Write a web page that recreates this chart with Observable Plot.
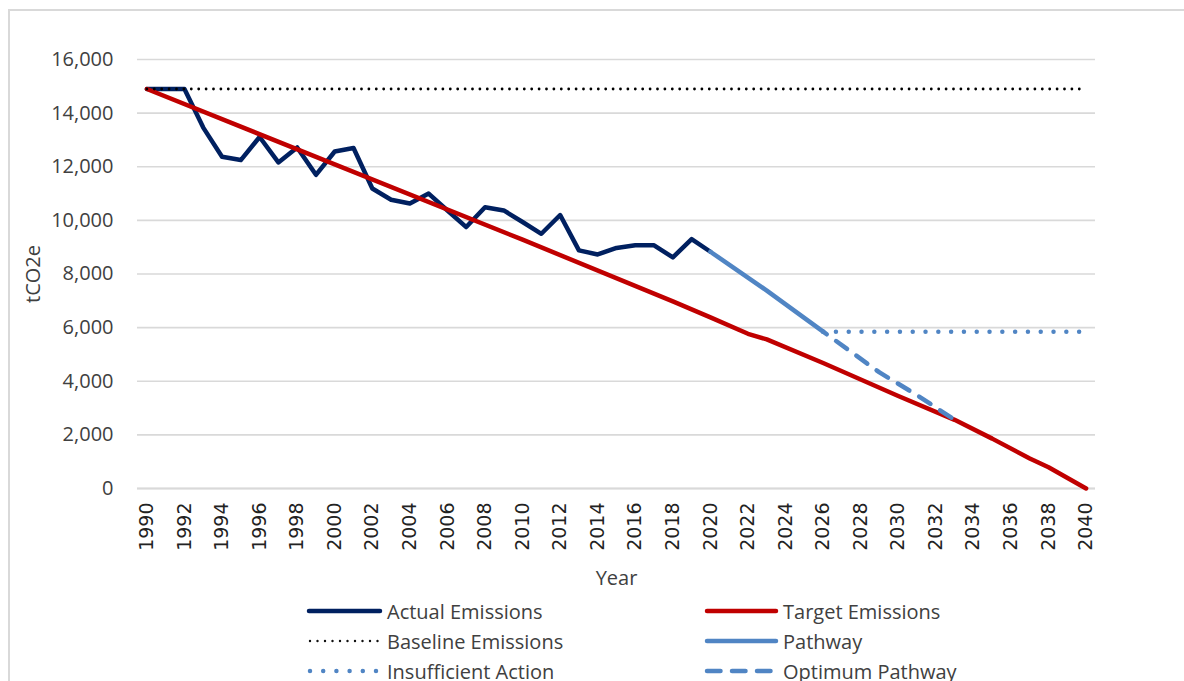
<!DOCTYPE html>
<html><head><meta charset="utf-8">
<script src="https://cdn.jsdelivr.net/npm/d3@7"></script>
<script src="https://cdn.jsdelivr.net/npm/@observablehq/plot@0.6"></script>
<style>
body{margin:0;background:#fff;width:1184px;height:681px;overflow:hidden;position:relative;font-family:"Open Sans",sans-serif}
#frame{position:absolute;left:8px;top:9px;width:1300px;height:800px;border:2px solid #d9d9d9;box-sizing:border-box}
#chart{position:absolute;left:0;top:0}
#legend{position:absolute;left:0;top:596px;width:1184px;height:90px}
.item{position:absolute;display:flex;align-items:center;height:30px;font-size:20px;color:#404040;white-space:nowrap}
.item svg{display:block}
.item span{margin-left:4px}
</style></head><body>
<div id="frame"></div><div id="chart"></div><div id="legend"></div>
<script>
// ---- data ----
const actualYears = [1990,1991,1992,1993,1994,1995,1996,1997,1998,1999,2000,2001,2002,2003,2004,2005,2006,2007,2008,2009,2010,2011,2012,2013,2014,2015,2016,2017,2018,2019,2020];
const actualValues = [14900,14900,14900,13460,12370,12250,13110,12160,12720,11700,12570,12700,11190,10770,10630,11000,10370,9750,10490,10370,9940,9500,10200,8880,8730,8970,9070,9070,8620,9300,8830];
const targetYears = [1990,2000,2010,2018,2020,2022,2023,2026,2030,2033,2035,2037,2038,2040];
const targetValues = [14900,12090,9280,6980,6380,5770,5560,4680,3450,2560,1860,1120,790,0];
const baselineYears = [1990,2040];
const baselineValues = [14900,14900];
const pathwayYears = [2020,2023,2026];
const pathwayValues = [8830,7380,5850];
const insufficientYears = [2026,2040];
const insufficientValues = [5850,5850];
const optimumYears = [2026,2029,2031,2033];
const optimumValues = [5850,4330,3480,2560];
const yTicks = [0,2000,4000,6000,8000,10000,12000,14000,16000];
const xTicks = [1990,1992,1994,1996,1998,2000,2002,2004,2006,2008,2010,2012,2014,2016,2018,2020,2022,2024,2026,2028,2030,2032,2034,2036,2038,2040];
const seriesNames = ["Actual Emissions","Target Emissions","Baseline Emissions","Pathway","Insufficient Action","Optimum Pathway"];

const C = {
  actual: "#002060", target: "#C00000", baseline: "#000000", blue: "#5085C4"
};
const toRows = (xs, ys) => xs.map((x, i) => ({x, y: ys[i]}));

const lineOpts = (stroke, extra = {}) => ({x: "x", y: "y", stroke, strokeWidth: 4.5, strokeLinejoin: "round", strokeLinecap: "round", ...extra});

const chart = Plot.plot({
  width: 1184, height: 597,
  marginLeft: 137, marginRight: 89, marginTop: 59, marginBottom: 109,
  x: {domain: [1989.5, 2040.5]},
  y: {domain: [0, 16000]},
  style: {background: "transparent", overflow: "visible"},
  marks: [
    Plot.gridY(yTicks, {stroke: "#d9d9d9", strokeOpacity: 1, strokeWidth: 1.6}),
    Plot.ruleY([0], {stroke: "#d9d9d9", strokeWidth: 2}),
    Plot.axisY(yTicks, {tickSize: 0, tickPadding: 24, tickFormat: d3.format(","), fontSize: 20, fontFamily: "Open Sans", color: "#404040", label: null}),
    Plot.axisX(xTicks, {tickSize: 0, tickPadding: 14, tickRotate: -90, tickFormat: d => String(d), fontSize: 19, fontFamily: "DejaVu Sans", color: "#222", label: null}),
    Plot.text(["tCO2e"], {frameAnchor: "left", dx: -104, rotate: -90, text: d => d, fontSize: 20, fontFamily: "Open Sans", fill: "#404040", textAnchor: "middle"}),
    Plot.text(["Year"], {frameAnchor: "bottom", dy: 90, text: d => d, fontSize: 20, fontFamily: "Open Sans", fill: "#404040", lineAnchor: "middle"}),
    Plot.line(toRows(actualYears, actualValues), lineOpts(C.actual)),
    Plot.line(toRows(targetYears, targetValues), lineOpts(C.target)),
    Plot.line(toRows(pathwayYears, pathwayValues), lineOpts(C.blue)),
    Plot.line(toRows(insufficientYears, insufficientValues), lineOpts(C.blue, {strokeDasharray: "0 12.8"})),
    Plot.line(toRows(optimumYears, optimumValues), lineOpts(C.blue, {strokeDasharray: "13.5 11.5", strokeDashoffset: -16})),
    Plot.line(toRows(baselineYears, baselineValues), lineOpts(C.baseline, {strokeWidth: 2.8, strokeDasharray: "0 7.4"}))
  ]
});
document.getElementById("chart").appendChild(chart);

// ---- legend ----
const legendStyles = [
  {stroke: C.actual, width: 4.5, dash: null},
  {stroke: C.target, width: 4.5, dash: null},
  {stroke: "#111", width: 2.4, dash: "0 7.5"},
  {stroke: C.blue, width: 4.5, dash: null},
  {stroke: C.blue, width: 4.5, dash: "0 13.2"},
  {stroke: C.blue, width: 4.5, dash: "13.5 11.5"}
];
const legend = document.getElementById("legend");
seriesNames.forEach((name, i) => {
  const col = i % 2, row = Math.floor(i / 2);
  const left = col === 0 ? 306 : 704;
  const w = col === 0 ? 77 : 75;
  const s = legendStyles[i];
  const item = document.createElement("div");
  item.className = "item";
  item.style.left = left + "px";
  item.style.top = (row * 30) + "px";
  item.innerHTML = `<svg width="${w}" height="30"><line x1="${s.dash && s.dash.startsWith('0') ? 4 : 3}" x2="${w - 3}" y1="15" y2="15" stroke="${s.stroke}" stroke-width="${s.width}" stroke-linecap="round" ${s.dash ? `stroke-dasharray="${s.dash}"` : ""}/></svg><span>${name}</span>`;
  legend.appendChild(item);
});
</script>
</body></html>
